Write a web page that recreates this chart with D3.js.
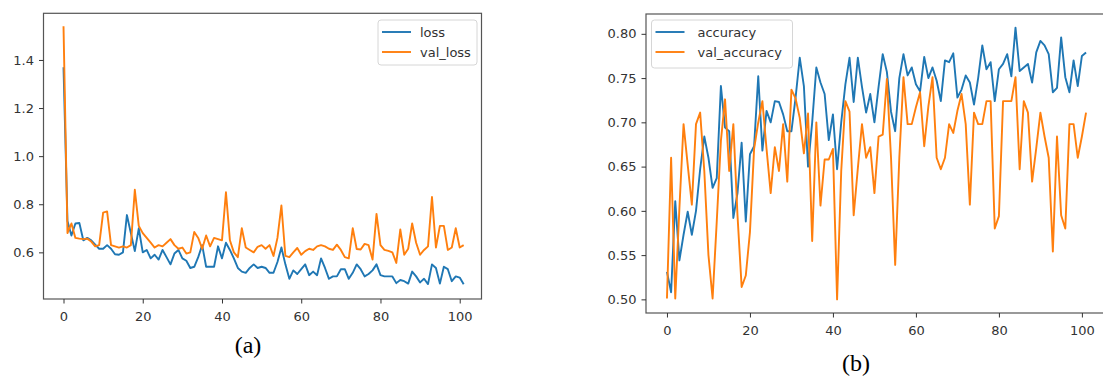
<!DOCTYPE html>
<html>
<head>
<meta charset="utf-8">
<script src="https://cdn.jsdelivr.net/npm/d3@7"></script>
<style>
  body { margin: 0; background: #fff; }
  svg { display: block; }
</style>
</head>
<body>
<svg id="chart" width="1103" height="376"></svg>
<script>
// training history, one value per epoch (0..101)
const loss = [
  1.37, 0.73, 0.67, 0.72, 0.722, 0.65, 0.66, 0.65, 0.632, 0.615,
  0.615, 0.63, 0.615, 0.592, 0.59, 0.60, 0.755, 0.68, 0.605, 0.70,
  0.60, 0.61, 0.575, 0.59, 0.57, 0.61, 0.58, 0.55, 0.595, 0.61,
  0.575, 0.565, 0.535, 0.54, 0.58, 0.63, 0.54, 0.54, 0.54, 0.625,
  0.575, 0.64, 0.61, 0.575, 0.535, 0.52, 0.515, 0.535, 0.55, 0.535,
  0.54, 0.535, 0.515, 0.515, 0.56, 0.62, 0.55, 0.49, 0.525, 0.51,
  0.53, 0.55, 0.505, 0.52, 0.505, 0.575, 0.535, 0.49, 0.50, 0.50,
  0.53, 0.53, 0.49, 0.515, 0.55, 0.53, 0.50, 0.51, 0.525, 0.55,
  0.505, 0.50, 0.50, 0.50, 0.472, 0.485, 0.48, 0.47, 0.52, 0.50,
  0.475, 0.49, 0.468, 0.55, 0.535, 0.47, 0.54, 0.53, 0.48, 0.50,
  0.495, 0.467
];
const valLoss = [
  1.54, 0.68, 0.72, 0.66, 0.657, 0.655, 0.657, 0.645, 0.625, 0.63,
  0.765, 0.77, 0.63, 0.625, 0.62, 0.625, 0.62, 0.63, 0.86, 0.71,
  0.68, 0.66, 0.64, 0.62, 0.63, 0.625, 0.64, 0.655, 0.63, 0.615,
  0.62, 0.595, 0.60, 0.685, 0.66, 0.615, 0.67, 0.625, 0.66, 0.655,
  0.65, 0.85, 0.65, 0.60, 0.58, 0.70, 0.62, 0.61, 0.60, 0.623,
  0.63, 0.615, 0.63, 0.585, 0.66, 0.795, 0.585, 0.58, 0.60, 0.618,
  0.59, 0.605, 0.615, 0.61, 0.625, 0.63, 0.625, 0.615, 0.61, 0.632,
  0.61, 0.58, 0.575, 0.70, 0.614, 0.612, 0.635, 0.63, 0.57, 0.76,
  0.63, 0.61, 0.606, 0.60, 0.556, 0.695, 0.59, 0.615, 0.72, 0.64,
  0.59, 0.61, 0.625, 0.83, 0.62, 0.71, 0.71, 0.61, 0.62, 0.70,
  0.62, 0.63
];
const accuracy = [
  0.531, 0.508, 0.611, 0.544, 0.573, 0.599, 0.573, 0.60, 0.647, 0.684,
  0.66, 0.626, 0.637, 0.741, 0.694, 0.69, 0.592, 0.62, 0.677, 0.588,
  0.664, 0.673, 0.752, 0.668, 0.713, 0.70, 0.724, 0.723, 0.709, 0.69,
  0.69, 0.728, 0.773, 0.741, 0.65, 0.70, 0.762, 0.745, 0.732, 0.68,
  0.709, 0.647, 0.70, 0.743, 0.773, 0.723, 0.773, 0.74, 0.711, 0.732,
  0.70, 0.74, 0.777, 0.757, 0.712, 0.69, 0.75, 0.777, 0.753, 0.762,
  0.743, 0.735, 0.774, 0.75, 0.762, 0.747, 0.724, 0.77, 0.768, 0.778,
  0.728, 0.737, 0.753, 0.745, 0.72, 0.75, 0.787, 0.76, 0.768, 0.724,
  0.76, 0.766, 0.777, 0.752, 0.807, 0.758, 0.762, 0.766, 0.745, 0.779,
  0.792, 0.787, 0.777, 0.734, 0.739, 0.796, 0.751, 0.734, 0.77, 0.741,
  0.775, 0.779
];
const valAccuracy = [
  0.501, 0.66, 0.501, 0.603, 0.698, 0.652, 0.607, 0.698, 0.711, 0.645,
  0.55, 0.501, 0.588, 0.679, 0.726, 0.645, 0.698, 0.595, 0.514, 0.527,
  0.576, 0.67, 0.70, 0.724, 0.67, 0.62, 0.672, 0.645, 0.698, 0.633,
  0.737, 0.727, 0.705, 0.665, 0.71, 0.566, 0.70, 0.606, 0.658, 0.658,
  0.67, 0.50, 0.645, 0.724, 0.712, 0.595, 0.648, 0.698, 0.66, 0.672,
  0.62, 0.684, 0.686, 0.749, 0.66, 0.539, 0.66, 0.751, 0.698, 0.698,
  0.717, 0.734, 0.673, 0.718, 0.751, 0.66, 0.647, 0.66, 0.698, 0.688,
  0.713, 0.732, 0.698, 0.607, 0.711, 0.698, 0.698, 0.724, 0.724, 0.58,
  0.594, 0.724, 0.724, 0.724, 0.751, 0.647, 0.724, 0.711, 0.633, 0.671,
  0.711, 0.684, 0.66, 0.554, 0.684, 0.595, 0.58, 0.698, 0.698, 0.66,
  0.684, 0.711
];

const xTicks = [0, 20, 40, 60, 80, 100];
const lossTicks = [0.6, 0.8, 1.0, 1.2, 1.4];
const accTicks = [0.50, 0.55, 0.60, 0.65, 0.70, 0.75, 0.80];

const BLUE = "#1f77b4";
const ORANGE = "#ff7f0e";
const AXIS = "#333";
const TICK_FONT = "DejaVu Sans, sans-serif";

const svg = d3.select("#chart");

function drawPanel(opts) {
  const { frame, xDomain, yDomain, yTicks, yFormat, series, legend, caption } = opts;

  const x = d3.scaleLinear().domain(xDomain).range([frame.left, frame.right]);
  const y = d3.scaleLinear().domain(yDomain).range([frame.bottom, frame.top]);

  const g = svg.append("g");

  const line = d3.line()
    .x((d, i) => x(i))
    .y((d) => y(d));

  series.forEach((s) => {
    g.append("path")
      .datum(s.values)
      .attr("fill", "none")
      .attr("stroke", s.color)
      .attr("stroke-width", 1.9)
      .attr("stroke-linejoin", "round")
      .attr("d", line);
  });

  // spines
  g.append("rect")
    .attr("x", frame.left)
    .attr("y", frame.top)
    .attr("width", frame.right - frame.left)
    .attr("height", frame.bottom - frame.top)
    .attr("fill", "none")
    .attr("stroke", "#555")
    .attr("stroke-width", 1.2);

  const xAxis = g.append("g")
    .attr("transform", `translate(0,${frame.bottom})`)
    .call(d3.axisBottom(x).tickValues(xTicks).tickSize(4.5).tickPadding(8).tickFormat(d3.format("d")));

  const yAxis = g.append("g")
    .attr("transform", `translate(${frame.left},0)`)
    .call(d3.axisLeft(y).tickValues(yTicks).tickSize(4.5).tickPadding(5).tickFormat(d3.format(yFormat)));

  [xAxis, yAxis].forEach((a) => {
    a.select(".domain").remove();
    a.selectAll(".tick line").attr("stroke", AXIS).attr("stroke-width", 1);
    a.selectAll(".tick text")
      .attr("fill", AXIS)
      .style("font-family", TICK_FONT)
      .style("font-size", "13px");
  });

  // legend
  const lg = g.append("g").attr("transform", `translate(${legend.x},${legend.y})`);
  lg.append("rect")
    .attr("width", legend.width)
    .attr("height", legend.height)
    .attr("rx", 3)
    .attr("fill", "#fff")
    .attr("fill-opacity", 0.8)
    .attr("stroke", "#d6d6d6");
  series.forEach((s, i) => {
    const ly = 12 + i * 20;
    lg.append("line")
      .attr("x1", 4).attr("x2", 33)
      .attr("y1", ly).attr("y2", ly)
      .attr("stroke", s.color)
      .attr("stroke-width", 1.9);
    lg.append("text")
      .attr("x", legend.textX)
      .attr("y", ly)
      .attr("dy", "0.35em")
      .attr("fill", AXIS)
      .style("font-family", TICK_FONT)
      .style("font-size", "13px")
      .text(s.name);
  });

  svg.append("text")
    .attr("x", caption.x)
    .attr("y", caption.y)
    .attr("text-anchor", "middle")
    .attr("fill", "#000")
    .style("font-family", "Liberation Serif, Times New Roman, serif")
    .style("font-size", "24px")
    .text(caption.text);
}

drawPanel({
  frame: { left: 43.5, right: 481.5, top: 13.3, bottom: 299 },
  xDomain: [-5.05, 105.5],
  yDomain: [0.406, 1.594],
  yTicks: lossTicks,
  yFormat: ".1f",
  series: [
    { name: "loss", values: loss, color: BLUE },
    { name: "val_loss", values: valLoss, color: ORANGE }
  ],
  legend: { x: 378, y: 20, width: 99, height: 45, textX: 42 },
  caption: { x: 248, y: 353, text: "(a)" }
});

drawPanel({
  frame: { left: 646, right: 1107, top: 14, bottom: 313 },
  xDomain: [-5.05, 106.05],
  yDomain: [0.4846, 0.8224],
  yTicks: accTicks,
  yFormat: ".2f",
  series: [
    { name: "accuracy", values: accuracy, color: BLUE },
    { name: "val_accuracy", values: valAccuracy, color: ORANGE }
  ],
  legend: { x: 651.5, y: 20, width: 141, height: 48, textX: 46 },
  caption: { x: 856, y: 371, text: "(b)" }
});
</script>
</body>
</html>
